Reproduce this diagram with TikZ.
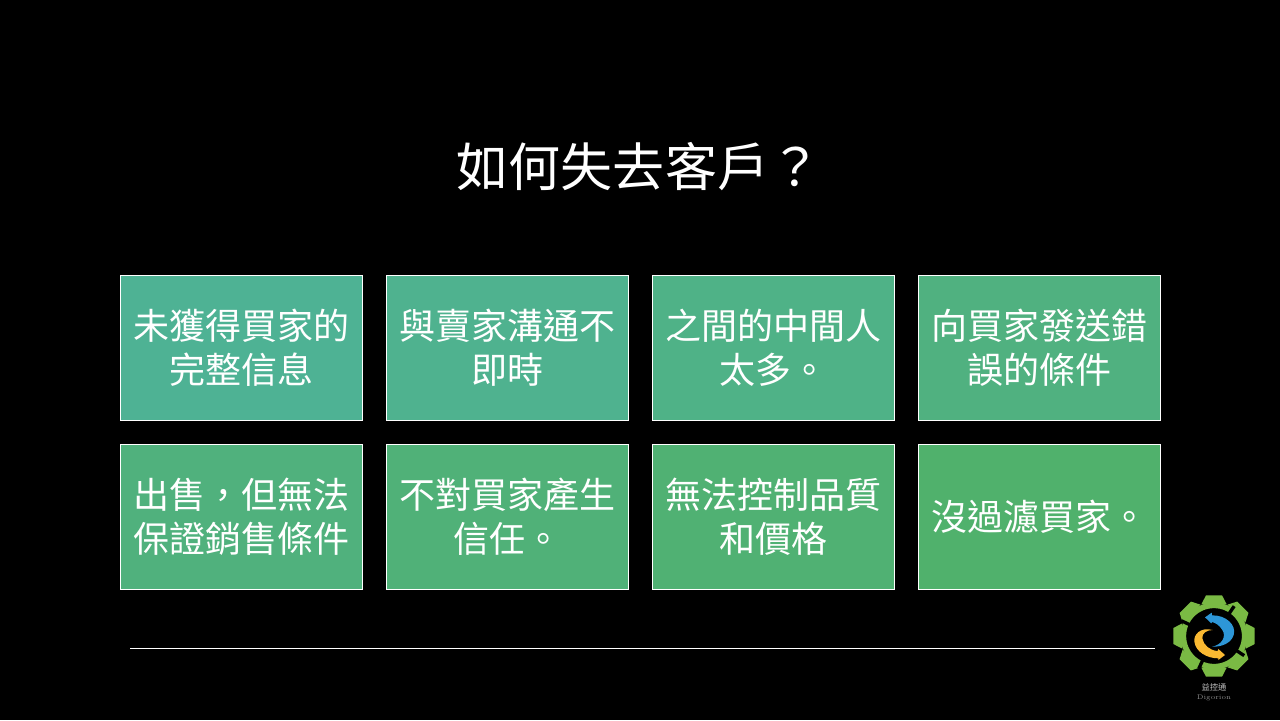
\documentclass[tikz,border=0pt]{standalone}
\usepackage{fontspec}
\usepackage{tikz}
\usetikzlibrary{positioning}
\newfontfamily\cjk{Noto Sans CJK TC}
\definecolor{boxa}{RGB}{78,178,148}
\definecolor{boxb}{RGB}{79,178,143}
\definecolor{boxc}{RGB}{79,178,135}
\definecolor{boxd}{RGB}{80,177,128}
\definecolor{boxe}{RGB}{80,177,125}
\definecolor{boxf}{RGB}{80,177,120}
\definecolor{boxg}{RGB}{80,177,115}
\definecolor{boxh}{RGB}{80,177,108}
\definecolor{gearcol}{RGB}{122,186,68}
\definecolor{logoblue}{RGB}{45,150,215}
\definecolor{logoyellow}{RGB}{250,185,50}
\tikzstyle{block} = [rectangle, draw=white, line width=0.35pt, text=white,
    minimum width=4.84cm, minimum height=2.9cm, align=center, inner sep=0pt,
    font=\cjk\fontsize{20.5}{25}\selectfont]
\tikzstyle{line} = [draw=white, line width=0.35pt]
\begin{document}
\begin{tikzpicture}[node distance = 3.38cm]
  \fill [black] (0,0) rectangle (25.6,14.4);
  \useasboundingbox (0,0) rectangle (25.6,14.4);

  \node [text=white, font=\cjk\fontsize{29.6}{36}\selectfont] (title) at (12.78,11.07) {如何失去客戶？};

  \node [block, fill=boxa] (info) at (4.83,7.44) {未獲得買家的\\完整信息};
  \node [block, fill=boxb, right of=info, node distance=5.32cm] (talk) {與賣家溝通不\\即時};
  \node [block, fill=boxc, right of=talk, node distance=5.32cm] (middle) {之間的中間人\\太多。};
  \node [block, fill=boxd, right of=middle, node distance=5.32cm] (terms) {向買家發送錯\\誤的條件};

  \node [block, fill=boxe, below of=info] (sell) {出售，但無法\\保證銷售條件};
  \node [block, fill=boxf, below of=talk] (trust) {不對買家產生\\信任。};
  \node [block, fill=boxg, below of=middle] (price) {無法控制品質\\和價格};
  \node [block, fill=boxh, below of=terms] (filter) {沒過濾買家。};

  \coordinate (rulel) at (2.6,1.44);
  \coordinate (ruler) at (23.1,1.44);
  \path [line] (rulel) -- (ruler);

  \begin{scope}[shift={(23,2.8)}, x=0.00667cm, y=-0.00667cm]
    \draw [gearcol, line width=3.2pt] (192,168) circle (92);
    \foreach \a in {0,45,...,315}
      \fill [gearcol, shift={(192,168)}, rotate=\a]
        (95,-38) -- (122,-24) -- (122,24) -- (95,38) -- cycle;
    \foreach \a in {56,155,245,327}
      \fill [black, shift={(192,168)}, rotate=\a]
        (74,-5) -- (108,-5) -- (108,5) -- (74,5) -- cycle;
    \fill [logoblue] (165,112) -- (185,98) -- (186,106)
      .. controls (228,105) and (260,135) .. (251,165)
      .. controls (243,190) and (215,201) .. (186,200)
      .. controls (215,195) and (230,170) .. (217,150)
      .. controls (208,135) and (195,128) .. (186,126)
      -- (184,130) -- cycle;
    \fill [logoyellow] (188,150)
      .. controls (150,140) and (130,165) .. (133,185)
      .. controls (137,215) and (170,235) .. (205,235)
      -- (205,240) -- (225,225) -- (205,207) -- (203,213)
      .. controls (180,212) and (160,195) .. (157,175)
      .. controls (155,160) and (170,150) .. (188,150) -- cycle;
    \node [text=white!75!black, font=\cjk\fontsize{4.7}{6}\selectfont] (logoname) at (192,322) {益控通};
    \node [text=white!55!black, font=\fontsize{3.8}{5}\selectfont] (logolatin) at (192,353) {Digorion};
  \end{scope}
\end{tikzpicture}
\end{document}
